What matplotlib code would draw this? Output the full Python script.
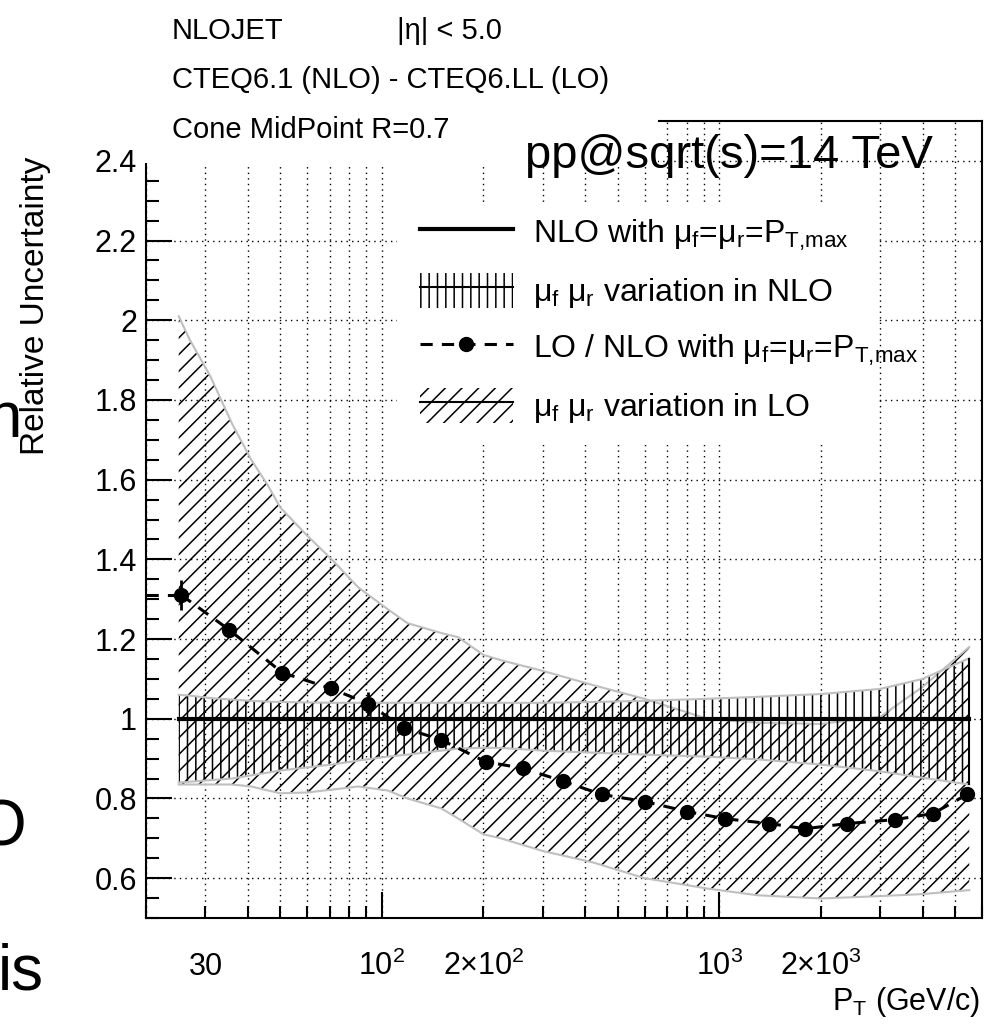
import matplotlib
matplotlib.use('Agg')
import numpy as np
import matplotlib.pyplot as plt
from matplotlib.patches import Patch, Rectangle
from matplotlib.lines import Line2D
from matplotlib.ticker import LogLocator, FuncFormatter, MultipleLocator

NARROW = ['Liberation Sans Narrow', 'Liberation Sans', 'DejaVu Sans']
SLIDE = ['Liberation Sans', 'DejaVu Sans']

plt.rcParams['font.family'] = NARROW
plt.rcParams['mathtext.fontset'] = 'custom'
plt.rcParams['mathtext.rm'] = 'Liberation Sans'
plt.rcParams['mathtext.it'] = 'Liberation Sans'
plt.rcParams['mathtext.sf'] = 'Liberation Sans'
plt.rcParams['mathtext.bf'] = 'Liberation Sans:bold'
plt.rcParams['hatch.linewidth'] = 1.1

## scale-variation bands
pt_band = [25, 27, 31, 36, 41, 46, 50, 60, 71, 85, 104, 119, 150, 168, 200, 225,
           300, 420, 600, 920, 1300, 2000, 3000, 4000, 5500]
lo_up = [2.01, 1.95, 1.86, 1.74, 1.65, 1.585, 1.53, 1.46, 1.40, 1.33, 1.275, 1.24,
         1.215, 1.205, 1.16, 1.147, 1.12, 1.085, 1.05, 1.00, 0.99, 0.987, 1.005, 1.08, 1.18]
lo_low = [0.835, 0.835, 0.835, 0.835, 0.83, 0.82, 0.813, 0.815, 0.822, 0.83, 0.82, 0.80,
          0.775, 0.75, 0.71, 0.70, 0.668, 0.64, 0.60, 0.574, 0.557, 0.549, 0.555, 0.56, 0.57]
nlo_up = [1.06, 1.058, 1.052, 1.048, 1.045, 1.043, 1.042, 1.041, 1.04, 1.04, 1.04, 1.04,
          1.04, 1.04, 1.04, 1.04, 1.04, 1.042, 1.045, 1.05, 1.055, 1.062, 1.075, 1.10, 1.152]
nlo_low = [0.84, 0.842, 0.846, 0.85, 0.858, 0.865, 0.87, 0.878, 0.885, 0.895, 0.905, 0.91,
           0.92, 0.925, 0.927, 0.927, 0.92, 0.915, 0.91, 0.905, 0.898, 0.885, 0.868, 0.852, 0.835]
nlo_nominal = [1.0] * len(pt_band)

## LO / NLO points
pt_points = [25.4, 35.3, 50.6, 70.6, 91, 116, 150, 203, 261, 345, 448, 604, 803, 1042,
             1406, 1795, 2393, 3319, 4295, 5420]
lo_nlo = [1.311, 1.223, 1.116, 1.076, 1.038, 0.977, 0.947, 0.892, 0.876, 0.843, 0.810,
          0.792, 0.767, 0.749, 0.737, 0.724, 0.737, 0.747, 0.762, 0.810]
lo_nlo_err = [0.038, 0.015, 0.01, 0.01, 0.03, 0.01, 0.01, 0.01, 0.008, 0.008, 0.008,
              0.008, 0.008, 0.008, 0.008, 0.008, 0.008, 0.008, 0.008, 0.01]

x_range = (20, 6000)
y_range = (0.5, 2.5)
minor_labels = {30: '30', 200: r'2$\times$10$^{2}$', 2000: r'2$\times$10$^{3}$'}

legend_labels = [r'NLO with $\mu_{f}$=$\mu_{r}$=P$_{T{,}max}$',
                 r'$\mu_{f}$ $\mu_{r}$ variation in NLO',
                 r'LO / NLO with $\mu_{f}$=$\mu_{r}$=P$_{T{,}max}$',
                 r'$\mu_{f}$ $\mu_{r}$ variation in LO']

W, H = 988, 1026


def fx(px):
    return px / W


def fy(py):
    return 1 - py / H


fig = plt.figure(figsize=(W / 100, H / 100), dpi=100)
ax = fig.add_axes([fx(146), fy(918), (982 - 146) / W, (918 - 121) / H])
ax.set_xscale('log')
ax.set_xlim(*x_range)
ax.set_ylim(*y_range)

# LO band
ax.fill_between(pt_band, lo_low, lo_up, facecolor='none', edgecolor='k',
                hatch='//', linewidth=0, zorder=2)
ax.plot(pt_band, lo_up, color='0.75', lw=1.5, zorder=2)
ax.plot(pt_band, lo_low, color='0.75', lw=1.5, zorder=2)

# NLO band
ax.fill_between(pt_band, nlo_low, nlo_up, facecolor='none', edgecolor='k',
                hatch='||', linewidth=0, zorder=3)
ax.plot(pt_band, nlo_up, color='0.75', lw=1.5, zorder=3)
ax.plot(pt_band, nlo_low, color='0.75', lw=1.5, zorder=3)
ax.vlines(pt_band[-1], nlo_low[-1], nlo_up[-1], color='k', lw=1.5, zorder=3)
ax.plot(pt_band, nlo_nominal, color='k', lw=3, zorder=4)

# LO / NLO
ax.plot([x_range[0], pt_points[0]], [lo_nlo[0], lo_nlo[0]], color='k', lw=2.2,
        ls=(0, (4, 3)), zorder=5)
ax.plot(pt_points, lo_nlo, color='k', lw=2.2, ls=(0, (4, 3)), marker='o', ms=10, zorder=5)
ax.errorbar(pt_points, lo_nlo, yerr=lo_nlo_err, fmt='none', ecolor='k', elinewidth=2,
            capsize=0, zorder=5)

# axes cosmetics, ROOT-like
ax.xaxis.set_major_locator(LogLocator(base=10))
ax.xaxis.set_minor_locator(LogLocator(base=10, subs=(2, 3, 4, 5, 6, 7, 8, 9), numticks=50))
ax.xaxis.set_major_formatter(FuncFormatter(lambda v, p: r'10$^{%d}$' % round(np.log10(v))))
ax.xaxis.set_minor_formatter(FuncFormatter(lambda v, p: minor_labels.get(int(round(v)), '')))
ax.yaxis.set_major_locator(MultipleLocator(0.2))
ax.yaxis.set_minor_locator(MultipleLocator(0.05))
ax.yaxis.set_major_formatter(FuncFormatter(lambda v, p: '%g' % round(v, 2)))

ax.tick_params(which='both', direction='in', top=False, right=False, width=1.5,
               labelsize=22)
ax.tick_params(which='major', length=19)
ax.tick_params(which='minor', length=9)
ax.tick_params(axis='y', pad=6.5)
ax.tick_params(axis='x', which='both', pad=41)
for t in ax.xaxis.get_major_ticks() + ax.xaxis.get_minor_ticks():
    t.label1.set_verticalalignment('baseline')

for s in ax.spines.values():
    s.set_linewidth(1.5)

ax.set_axisbelow(True)
ax.grid(True, axis='x', which='both', color='k', lw=1, ls=(0, (1, 3)))
ax.grid(True, axis='y', which='major', color='k', lw=1, ls=(0, (1, 3)))

# white paves (title box and legend box)
fig.add_artist(Rectangle((fx(142), fy(163)), (658 - 142) / W, 163 / H,
                         transform=fig.transFigure, facecolor='white',
                         edgecolor='none', zorder=2))
fig.add_artist(Rectangle((fx(397), fy(445)), (877 - 397) / W, (445 - 203) / H,
                         transform=fig.transFigure, facecolor='white',
                         edgecolor='none', zorder=2))

h1 = Line2D([], [], color='k', lw=3)
h2 = (Patch(facecolor='none', edgecolor='k', hatch='||', lw=0),
      Line2D([], [], color='k', lw=1.5))
h3 = Line2D([], [], color='k', lw=2.2, ls=(0, (4, 3)), marker='o', ms=10)
h4 = (Patch(facecolor='none', edgecolor='k', hatch='//', lw=0),
      Line2D([], [], color='k', lw=1.5))
leg = fig.legend([h1, h2, h3, h4], legend_labels, loc='upper left',
                 bbox_to_anchor=(fx(420), fy(215)), frameon=False, fontsize=23,
                 handlelength=2.9, handleheight=1.3, handletextpad=0.65,
                 labelspacing=0.62, borderpad=0, borderaxespad=0)
leg.set_zorder(6)

# texts
fig.text(fx(172), fy(39), 'NLOJET', fontsize=21, va='baseline', zorder=6)
fig.text(fx(397), fy(39), '|η| < 5.0', fontsize=21, va='baseline', zorder=6)
fig.text(fx(172), fy(88), 'CTEQ6.1 (NLO) - CTEQ6.LL (LO)', fontsize=21,
         va='baseline', zorder=6)
fig.text(fx(172), fy(138), 'Cone MidPoint R=0.7', fontsize=21, va='baseline', zorder=6)
fig.text(fx(933), fy(168), 'pp@sqrt(s)=14 TeV', family=SLIDE, fontsize=34,
         ha='right', va='baseline', zorder=6)
fig.text(fx(980), fy(1010), r'P$_{T}$ (GeV/c)', fontsize=22, ha='right', va='baseline')
fig.text(fx(36), fy(306), 'Relative Uncertainty', fontsize=24, rotation=90,
         ha='center', va='center')

# pieces of slide text cut by the crop
fig.text(fx(-13), fy(437), 'n', family=SLIDE, fontsize=46, va='baseline')
fig.text(fx(-23), fy(846), 'O', family=SLIDE, fontsize=46, va='baseline')
fig.text(fx(-2), fy(990), 'is', family=SLIDE, fontsize=46, va='baseline')

fig.savefig('out.png', dpi=100)
